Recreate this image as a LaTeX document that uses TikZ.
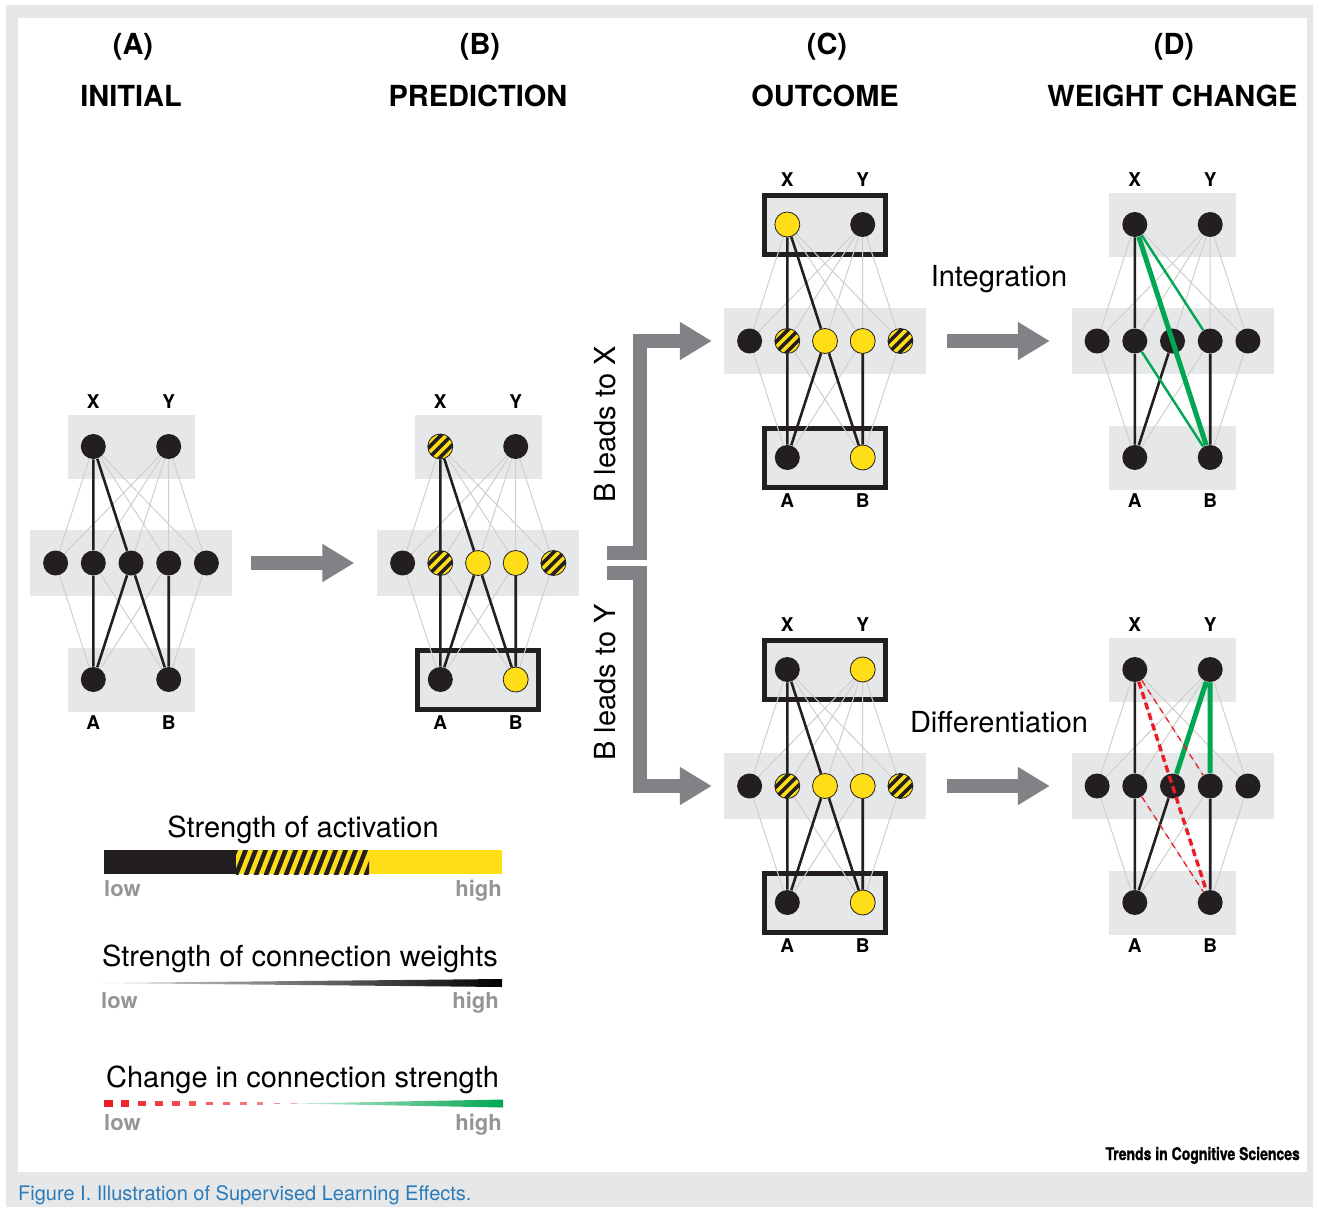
\documentclass[tikz,border=0pt]{standalone}
\usepackage{fontspec}
\setmainfont{TeX Gyre Heros}
\usetikzlibrary{arrows.meta}

\definecolor{panel}{HTML}{E6E7E8}
\definecolor{ink}{HTML}{231F20}
\definecolor{act}{HTML}{FFDE17}
\definecolor{wiregray}{HTML}{CFCFCF}
\definecolor{grow}{HTML}{00A651}
\definecolor{loss}{HTML}{ED1C24}
\definecolor{flow}{HTML}{808285}
\definecolor{lowgray}{HTML}{939598}
\definecolor{capblue}{HTML}{2B7BB9}

\pgfdeclarelayer{back}
\pgfdeclarelayer{wires}
\pgfsetlayers{back,wires,main}

\begin{document}
\begin{tikzpicture}[x=1pt, y=-1pt, node distance=37.7pt]
        \tikzstyle{unit} = [circle, minimum size=25pt, inner sep=0pt, line width=0.8pt]
        \tikzstyle{dark} = [unit, fill=ink]
        \tikzstyle{lit} = [unit, fill=act, draw=ink]
        \tikzstyle{half} = [unit, fill=act, draw=ink, path picture={
            \begin{scope}[shift={(path picture bounding box.center)}]
                \foreach \k in {-3,...,3}
                    \draw[ink, line width=3.6pt] (\k*5.3-16,\k*5.3+16) -- (\k*5.3+16,\k*5.3-16);
            \end{scope}}]
        \tikzstyle{band} = [rectangle, fill=panel, minimum width=127pt, minimum height=64pt, inner sep=0pt]
        \tikzstyle{cue} = [band, draw=ink, line width=5pt, minimum width=121pt, minimum height=59pt]
        \tikzstyle{midband} = [band, minimum width=202pt, minimum height=66pt]
        \tikzstyle{wire} = [draw=wiregray, line width=1pt]
        \tikzstyle{strong} = [draw=ink, line width=2.6pt]
        \tikzstyle{gain} = [draw=grow, line width=2.4pt]
        \tikzstyle{drop} = [draw=loss, line width=1.3pt, dash pattern=on 6pt off 5pt]
        \tikzstyle{flowarrow} = [draw=flow, line width=14pt, -{Triangle[length=32pt, width=36pt]}]
        \tikzstyle{tag} = [inner sep=0pt, anchor=base, font=\fontsize{19}{22}\selectfont\bfseries]
        \tikzstyle{word} = [inner sep=0pt, anchor=base, font=\fontsize{29}{34}\selectfont]
        \tikzstyle{head} = [word, font=\fontsize{29}{34}\selectfont\bfseries]
        \tikzstyle{ends} = [inner sep=0pt, text=lowgray, font=\fontsize{22}{26}\selectfont\bfseries]

        \begin{pgfonlayer}{back}
            \fill[white] (0,0) rectangle (1319,1207);
            \fill[panel] (6,5) rectangle (1313,1207);
            \fill[white] (18,18) rectangle (1307,1172);
        \end{pgfonlayer}

        \foreach \n/\cx/\cy/\topst/\botst/\fx/\fy/\fa/\fb/\mids in {
            init/131/563/band/band/dark/dark/dark/dark/{dark,dark,dark,dark,dark},
            pred/478/563/band/cue/half/dark/dark/lit/{dark,half,lit,lit,half},
            outx/825/341/cue/cue/lit/dark/dark/lit/{dark,half,lit,lit,half},
            outy/825/786/cue/cue/dark/lit/dark/lit/{dark,half,lit,lit,half},
            integ/1172.5/341/band/band/dark/dark/dark/dark/{dark,dark,dark,dark,dark},
            diff/1172.5/786/band/band/dark/dark/dark/dark/{dark,dark,dark,dark,dark}}
        {
            \begin{pgfonlayer}{back}
                \node (\n-top) [\topst] at (\cx,\cy-116.5) {};
                \node (\n-mid) [midband] at (\cx,\cy) {};
                \node (\n-bot) [\botst] at (\cx,\cy+116.5) {};
            \end{pgfonlayer}
            \foreach \s [count=\i] in \mids
                \node (\n\i) [\s] at (\cx-113.1+\i*37.7,\cy) {};
            \node (\n X) [\fx, node distance=116.5pt, above of=\n2] {};
            \node (\n Y) [\fy, node distance=116.5pt, above of=\n4] {};
            \node (\n A) [\fa, node distance=116.5pt, below of=\n2] {};
            \node (\n B) [\fb, node distance=116.5pt, below of=\n4] {};
            \node (\n-lx) [tag] at ([yshift=38.5pt]\n X) {X};
            \node (\n-ly) [tag] at ([yshift=38.5pt]\n Y) {Y};
            \node (\n-la) [tag] at ([yshift=-50pt]\n A) {A};
            \node (\n-lb) [tag] at ([yshift=-50pt]\n B) {B};
            \begin{pgfonlayer}{wires}
                \foreach \i in {1,...,5}
                    \draw[wire] (\n X) -- (\n\i) (\n Y) -- (\n\i);
                \foreach \i in {1,...,4}
                    \draw[wire] (\n A) -- (\n\i);
                \foreach \i in {2,...,5}
                    \draw[wire] (\n B) -- (\n\i);
            \end{pgfonlayer}
        }

        \begin{pgfonlayer}{wires}
            \foreach \n in {init,pred,outx,outy}
                \draw[strong] (\n X) -- (\n2) -- (\n A) -- (\n3) -- (\n X) (\n3) -- (\n B) -- (\n4);
            \foreach \n in {integ,diff}
                \draw[strong] (\n X) -- (\n2) -- (\n A) -- (\n3) (\n B) -- (\n4);
        \end{pgfonlayer}

        \draw[gain, line width=5pt] (integX) -- (integB);
        \draw[gain] (integX) -- (integ4) (integ2) -- (integB);
        \draw[gain, line width=5pt] (diffY) -- (diff3) (diffY) -- (diff4);
        \draw[drop, line width=3.4pt, dash pattern=on 7pt off 4pt] (diffX) -- (diffB);
        \draw[drop] (diffX) -- (diff4) (diff2) -- (diffB);

        \draw[flowarrow, shorten <=19pt, shorten >=22.5pt] (init-mid.east) -- (pred-mid.west);
        \draw[flowarrow, shorten <=28pt, shorten >=12pt] ([yshift=10.5pt]pred-mid.east) -- ++(61,0) |- (outx-mid.west);
        \draw[flowarrow, shorten <=28pt, shorten >=12pt] ([yshift=-10pt]pred-mid.east) -- ++(61,0) |- (outy-mid.west);
        \draw[flowarrow, shorten <=21pt, shorten >=21.5pt] (outx-mid.east) -- (integ-mid.west);
        \draw[flowarrow, shorten <=21pt, shorten >=21.5pt] (outy-mid.east) -- (diff-mid.west);

        \node (toX) [word, rotate=90] at (615.5,424.5) {B leads to X};
        \node (toY) [word, rotate=90] at (615.5,682.5) {B leads to Y};
        \node (integ-txt) [word] at (999,286.5) {Integration};
        \node (diff-txt) [word] at (999,732.5) {Differentiation};

        \node (capA) [head] at (133,54.5) {(A)};
        \node (capB) [head] at (480,54.5) {(B)};
        \node (capC) [head] at (827,54.5) {(C)};
        \node (capD) [head] at (1174,54.5) {(D)};
        \node (nameA) [head] at (131,106.5) {INITIAL};
        \node (nameB) [head] at (478,106.5) {PREDICTION};
        \node (nameC) [head] at (825,106.5) {OUTCOME};
        \node (nameD) [head] at (1172.5,106.5) {WEIGHT CHANGE};

        \node (actkey) [word] at (303,837.5) {Strength of activation};
        \fill[ink] (104,850) rectangle (236,874);
        \fill[act] (236,850) rectangle (502,874);
        \begin{scope}
            \clip (236,850) rectangle (369,874);
            \foreach \k in {0,...,14}
                \draw[ink, line width=4.5pt] (224+\k*10,880) -- (238+\k*10,844);
        \end{scope}
        \node (actlow) [ends, anchor=base west] at (104,896.7) {low};
        \node (acthigh) [ends, anchor=base east] at (502,896.7) {high};

        \node (wkey) [word] at (300,966) {Strength of connection weights};
        \shade[left color=black!12, middle color=black!70, right color=black] (100,983) -- (502,979) -- (502,987) -- cycle;
        \node (wlow) [ends, anchor=base west] at (101,1008) {low};
        \node (whigh) [ends, anchor=base east] at (499,1008) {high};

        \node (ckey) [word] at (302.5,1087) {Change in connection strength};
        \foreach \i [evaluate=\i as \fade using int(100-5*\i)] in {0,...,11}
            \fill[loss!\fade] (104+17*\i,1100+0.27*\i) rectangle ++(8.7-0.25*\i,7-0.54*\i);
        \shade[left color=grow!20, middle color=grow!95, right color=grow] (293,1103.5) -- (503,1099.5) -- (503,1107.5) -- cycle;
        \node (clow) [ends, anchor=base west] at (104,1130) {low};
        \node (chigh) [ends, anchor=base east] at (502,1130) {high};

        \node (brand) [inner sep=0pt, anchor=base east, font=\fontsize{17.5}{20}\selectfont\bfseries\addfontfeature{FakeBold=1.5}] at (1300,1160) {\scalebox{0.8}[1]{Trends in Cognitive Sciences}};
        \node (figcap) [inner sep=0pt, anchor=base west, text=capblue, font=\fontsize{20}{24}\selectfont] at (18,1200) {Figure I. Illustration of Supervised Learning Effects.};
\end{tikzpicture}
\end{document}
